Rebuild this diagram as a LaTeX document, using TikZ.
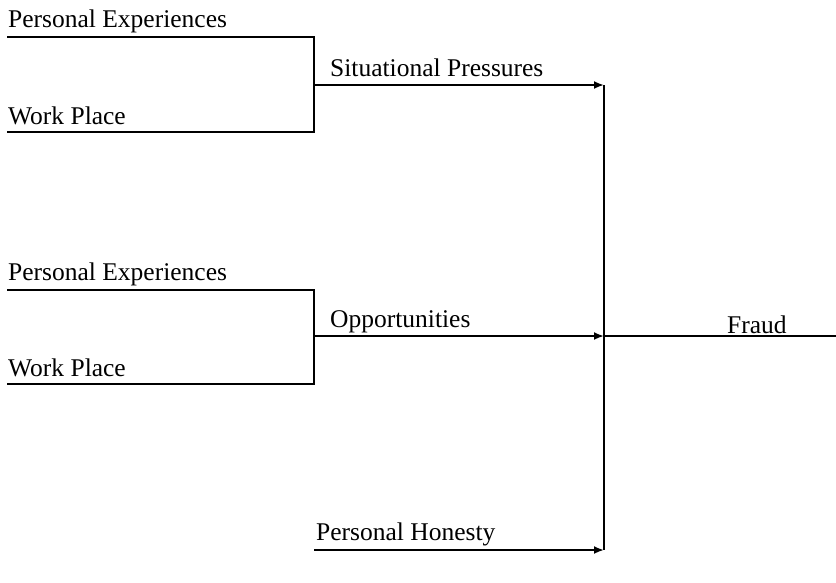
\documentclass[tikz,border=0pt]{standalone}
\usepackage{fontspec}
\setmainfont{Liberation Serif}
\usetikzlibrary{arrows.meta}

\begin{document}
\begin{tikzpicture}[x=1pt,y=-1pt,>={Latex[length=10pt,width=8pt]},
  wire/.style={line width=1.9pt},
  txt/.style={anchor=base west,inner sep=0pt,font=\fontsize{25.5}{30}\selectfont}]

\useasboundingbox (0,0) rectangle (836,582);

% Two input brackets: Situational Pressures and Opportunities
\foreach \g/\ya/\yb/\yc/\lbl in {sit/37/85/132/Situational Pressures, opp/290/336/384/Opportunities}
{
\node[txt] (\g pe) at (8,\ya-10) {Personal Experiences};
\node[txt] (\g wp) at (8,\yc-8) {Work Place};
\node[txt] (\g out) at (330,\yb-9) {\lbl};
\coordinate (\g a) at (7,\ya);
\coordinate (\g b) at (314,\ya);
\coordinate (\g c) at (7,\yc);
\coordinate (\g d) at (314,\yc);
\coordinate (\g m) at (314,\yb);
\coordinate (\g e) at (604,\yb);
\draw[wire] (\g a) -- (\g b) -- (\g d) -- (\g c);
\draw[wire,->] (\g m) -- (\g e);
}

% Personal Honesty
\node[txt] (ph) at (316,540) {Personal Honesty};
\coordinate (pha) at (314,550);
\coordinate (phe) at (604,550);
\draw[wire,->] (pha) -- (phe);

% Collector and output: Fraud
\draw[wire] (site) -- (phe);
\node[txt] (fr) at (727,333) {Fraud};
\coordinate (fre) at (836,336);
\draw[wire] (oppe) -- (fre);

\end{tikzpicture}
\end{document}
